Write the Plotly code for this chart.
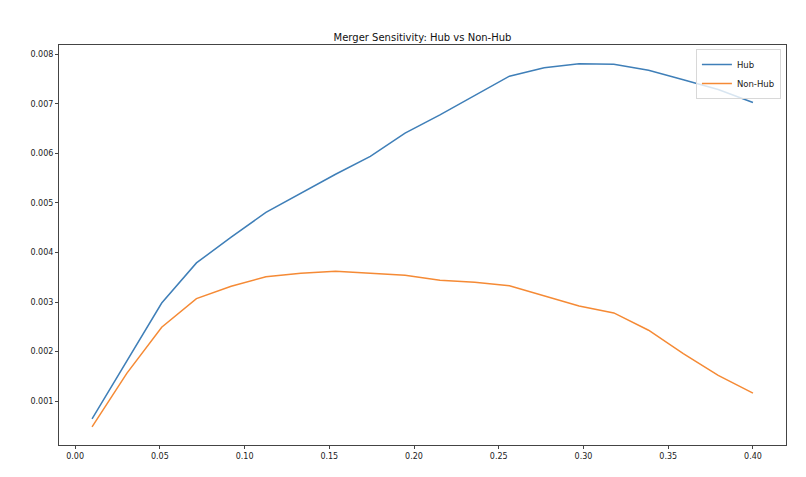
import plotly.graph_objects as go

# merger probability grid (x axis)
merger_prob = [0.01, 0.0305, 0.0511, 0.0716, 0.0921, 0.1126, 0.1332, 0.1537, 0.1742, 0.1947,
               0.2153, 0.2358, 0.2563, 0.2768, 0.2974, 0.3179, 0.3384, 0.3589, 0.3795, 0.40]

# sensitivity for hub and non-hub nodes
hub = [0.00064, 0.00182, 0.00298, 0.00379, 0.00431, 0.00481, 0.00520, 0.00558, 0.00594, 0.00641,
       0.00678, 0.00717, 0.00756, 0.00773, 0.00781, 0.00780, 0.00768, 0.00749, 0.00729, 0.00703]
non_hub = [0.00048, 0.00156, 0.00249, 0.00307, 0.00332, 0.00351, 0.00358, 0.00362, 0.00358, 0.00354,
           0.00344, 0.00340, 0.00333, 0.00312, 0.00292, 0.00278, 0.00243, 0.00196, 0.00152, 0.00116]

x_ticks = [0.00, 0.05, 0.10, 0.15, 0.20, 0.25, 0.30, 0.35, 0.40]
y_ticks = [0.001, 0.002, 0.003, 0.004, 0.005, 0.006, 0.007, 0.008]

fig = go.Figure()
fig.add_trace(go.Scatter(x=merger_prob, y=hub, mode='lines', name='Hub',
                         line=dict(color='#3f7fb8', width=1.5)))
fig.add_trace(go.Scatter(x=merger_prob, y=non_hub, mode='lines', name='Non-Hub',
                         line=dict(color='#f58a35', width=1.5)))

axis_style = dict(showgrid=False, zeroline=False, showline=True, linecolor='#444444',
                  linewidth=1, mirror=True, ticks='outside', ticklen=3, tickwidth=1,
                  tickcolor='#444444', tickfont=dict(size=8, color='#222222'),
                  automargin=False)

fig.update_xaxes(range=[-0.0095, 0.4195], tickvals=x_ticks,
                 ticktext=[f'{v:.2f}' for v in x_ticks], **axis_style)
fig.update_yaxes(range=[0.000113, 0.00819], tickvals=y_ticks,
                 ticktext=[f'{v:.3f}' for v in y_ticks], **axis_style)

# the page body adds ~8px, so the figure is a bit smaller than the window
fig.update_layout(
    width=798, height=469,
    margin=dict(l=51, r=20, t=37, b=32, autoexpand=False),
    plot_bgcolor='white', paper_bgcolor='white',
    font=dict(family='DejaVu Sans', size=8, color='#222222'),
    title=dict(text='Merger Sensitivity: Hub vs Non-Hub', x=0.5, xref='paper',
               y=0.938, yref='container', yanchor='middle',
               font=dict(size=10, color='#111111')),
    legend=dict(x=0.993, y=0.99, xanchor='right', yanchor='top',
                bgcolor='rgba(255,255,255,0.8)', bordercolor='#d8d8d8', borderwidth=1,
                font=dict(size=8.5), itemwidth=30, tracegroupgap=0),
    showlegend=True,
)

fig.write_html("out.html")
